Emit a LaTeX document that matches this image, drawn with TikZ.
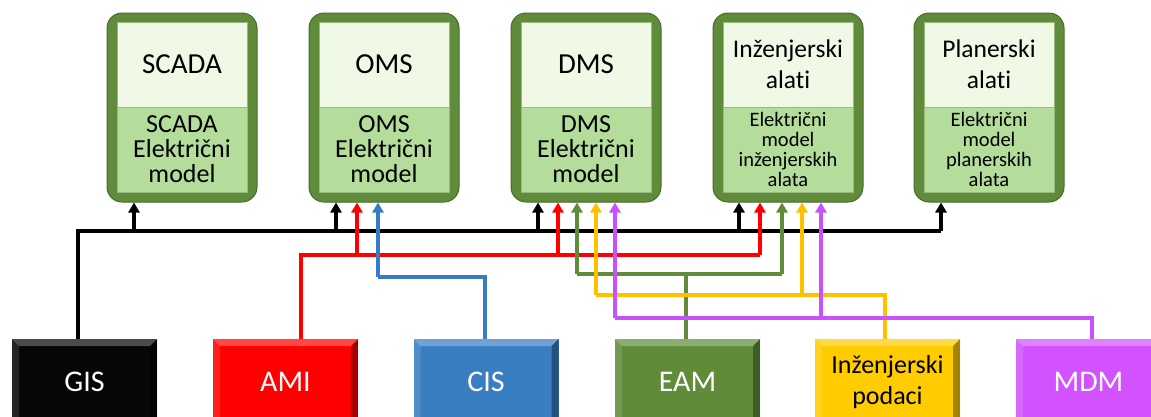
\documentclass[tikz,border=0pt]{standalone}
\usepackage{fontspec}
\setmainfont{Carlito}[Ligatures=NoCommon]
\usetikzlibrary{arrows.meta}
\definecolor{frameG}{RGB}{96,139,58}
\definecolor{frameD}{RGB}{72,108,42}
\definecolor{paleTop}{RGB}{239,249,229}
\definecolor{lightLow}{RGB}{180,220,154}
\definecolor{cellLine}{RGB}{150,185,125}
\definecolor{gisC}{RGB}{6,6,6}
\definecolor{amiC}{RGB}{255,0,0}
\definecolor{cisC}{RGB}{58,126,194}
\definecolor{eamC}{RGB}{96,140,58}
\definecolor{engC}{RGB}{255,204,0}
\definecolor{mdmC}{RGB}{210,82,255}
\definecolor{lnBlue}{RGB}{55,125,195}
\definecolor{lnGreen}{RGB}{96,140,58}
\definecolor{lnYellow}{RGB}{255,192,0}
\definecolor{lnPurple}{RGB}{200,80,255}
\begin{document}
\begin{tikzpicture}[x=1pt,y=-1pt,
  outerbox/.style={draw=frameD,line width=1pt,fill=frameG,rounded corners=15pt,minimum width=150pt,minimum height=189pt,inner sep=0pt},
  cell/.style={draw=cellLine,line width=0.8pt,minimum width=130pt,minimum height=85pt,inner sep=0pt,align=center,text=black},
  topcell/.style={cell,fill=paleTop,font=\fontsize{29}{32}\selectfont},
  topcellb/.style={cell,fill=paleTop,font=\fontsize{25.5}{31}\selectfont},
  lowcell/.style={cell,fill=lightLow,font=\fontsize{26}{25}\selectfont},
  lowcellb/.style={cell,fill=lightLow,font=\fontsize{20.5}{20}\selectfont},
  srcbox/.style={minimum width=145pt,minimum height=86pt,inner sep=0pt,align=center,text=white,font=\fontsize{30}{32}\selectfont,
    path picture={
      \fill[white,opacity=0.28] (path picture bounding box.north west) -- (path picture bounding box.north east)
        -- ([xshift=-7pt,yshift=-7pt]path picture bounding box.north east) -- ([xshift=7pt,yshift=-7pt]path picture bounding box.north west) -- cycle;
      \fill[white,opacity=0.12] (path picture bounding box.north west) -- ([xshift=7pt,yshift=-7pt]path picture bounding box.north west)
        -- ([xshift=7pt]path picture bounding box.south west) -- (path picture bounding box.south west) -- cycle;
      \fill[black,opacity=0.35] (path picture bounding box.north east) -- (path picture bounding box.south east)
        -- ([xshift=-7pt]path picture bounding box.south east) -- ([xshift=-7pt,yshift=-7pt]path picture bounding box.north east) -- cycle;
    }},
  conn/.style={line width=3.2pt},
  tip/.style={conn,-{Triangle[width=11pt,length=10pt]}}
]
\useasboundingbox (0,0) rectangle (1151,416);
\clip (0,0) rectangle (1151,416);

% top systems
\node[outerbox] (scada) at (182,107.5) {};
\node[topcell] (scadaT) at (182,64.5) {SCADA};
\node[lowcell] (scadaB) at (182,149.5) {SCADA\\Električni\\model};

\node[outerbox] (oms) at (384,107.5) {};
\node[topcell] (omsT) at (384,64.5) {OMS};
\node[lowcell] (omsB) at (384,149.5) {OMS\\Električni\\model};

\node[outerbox] (dms) at (586,107.5) {};
\node[topcell] (dmsT) at (586,64.5) {DMS};
\node[lowcell] (dmsB) at (586,149.5) {DMS\\Električni\\model};

\node[outerbox] (inz) at (788,107.5) {};
\node[topcellb] (inzT) at (788,64.5) {Inženjerski\\alati};
\node[lowcellb] (inzB) at (788,149.5) {Električni\\model\\inženjerskih\\alata};

\node[outerbox] (plan) at (989,107.5) {};
\node[topcellb] (planT) at (989,64.5) {Planerski\\alati};
\node[lowcellb] (planB) at (989,149.5) {Električni\\model\\planerskih\\alata};

% source systems
\node[srcbox,fill=gisC] (gis) at (84.5,382) {GIS};
\node[srcbox,fill=amiC] (ami) at (285.5,382) {AMI};
\node[srcbox,fill=cisC] (cis) at (486,382) {CIS};
\node[srcbox,fill=eamC] (eam) at (687.5,382) {EAM};
\node[srcbox,fill=engC,text=black,font=\fontsize{26}{31}\selectfont] (eng) at (887.5,382) {Inženjerski\\podaci};
\node[srcbox,fill=mdmC] (mdm) at (1088.5,382) {MDM};

% junction coordinates
\coordinate (k1) at (134,231);
\coordinate (k2) at (336,231);
\coordinate (k3) at (538,231);
\coordinate (k4) at (739,231);
\coordinate (k5) at (941,231);
\coordinate (r1) at (357,255);
\coordinate (r2) at (558,255);
\coordinate (r3) at (760,255);
\coordinate (b1) at (378,277);
\coordinate (g1) at (577,274);
\coordinate (g2) at (782,274);
\coordinate (y1) at (596,295);
\coordinate (y2) at (802,295);
\coordinate (p1) at (615,318);
\coordinate (p2) at (821,318);

% GIS (black)
\draw[conn,black] ([xshift=-6.5pt]gis.north) |- (k5);
\foreach \k/\b in {k1/scada,k2/oms,k3/dms,k4/inz,k5/plan}
  \draw[tip,black] (\k) -- (\k |- \b.south);

% AMI (red)
\draw[conn,amiC] ([xshift=15.5pt]ami.north) |- (r3);
\foreach \k/\b in {r1/oms,r2/dms,r3/inz}
  \draw[tip,amiC] (\k) -- (\k |- \b.south);

% CIS (blue)
\draw[conn,lnBlue] ([xshift=-1pt]cis.north) |- (b1);
\draw[tip,lnBlue] (b1) -- (b1 |- oms.south);

% EAM (green)
\draw[conn,lnGreen] ([xshift=-1.5pt]eam.north) -- ([xshift=-1.5pt]eam.north |- g1);
\draw[conn,lnGreen] (g1) -- (g2);
\draw[tip,lnGreen] (g1) -- (g1 |- dms.south);
\draw[tip,lnGreen] (g2) -- (g2 |- inz.south);

% Inzenjerski podaci (yellow)
\draw[conn,lnYellow] ([xshift=-2.5pt]eng.north) |- (y1);
\draw[tip,lnYellow] (y1) -- (y1 |- dms.south);
\draw[tip,lnYellow] (y2) -- (y2 |- inz.south);

% MDM (purple)
\draw[conn,lnPurple] ([xshift=3.5pt]mdm.north) |- (p1);
\draw[tip,lnPurple] (p1) -- (p1 |- dms.south);
\draw[tip,lnPurple] (p2) -- (p2 |- inz.south);
\end{tikzpicture}
\end{document}
